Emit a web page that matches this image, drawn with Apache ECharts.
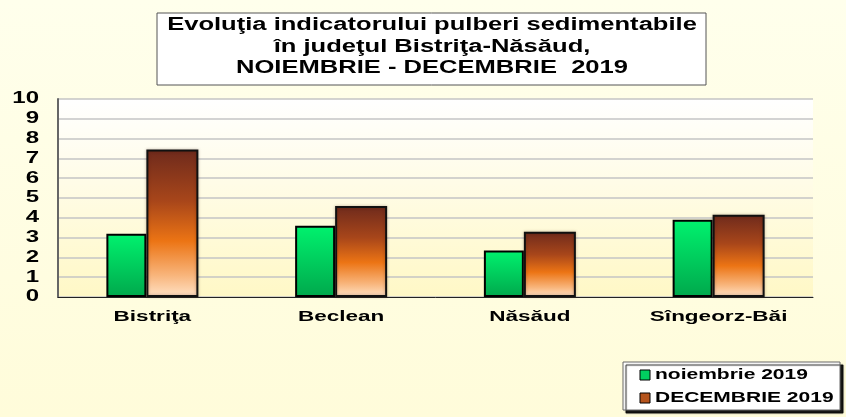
<!DOCTYPE html>
<html>
<head>
<meta charset="utf-8">
<script src="https://cdn.jsdelivr.net/npm/echarts@6/dist/echarts.min.js"></script>
<style>
  html, body { margin: 0; padding: 0; }
  #main { width: 846px; height: 417px; }
</style>
</head>
<body>
<div id="main"></div>
<script>
// date
var categorii = ['Bistriţa', 'Beclean', 'Năsăud', 'Sîngeorz-Băi'];
var noiembrie = [3.2, 3.6, 2.35, 3.9];
var decembrie = [7.45, 4.6, 3.3, 4.15];
var valoriY = [0, 1, 2, 3, 4, 5, 6, 7, 8, 9, 10];
var etichetaNov = 'noiembrie 2019';
var etichetaDec = 'DECEMBRIE 2019';
var titlu = 'Evoluţia indicatorului pulberi sedimentabile\nîn judeţul Bistriţa-Năsăud,\nNOIEMBRIE - DECEMBRIE  2019';

var font = '"Liberation Sans", Arial, sans-serif';
// textul din original e intins pe orizontala
var latire = 1.5;

var myChart = echarts.init(document.getElementById('main'));

var verde = new echarts.graphic.LinearGradient(0, 0, 0, 1, [
    {offset: 0, color: '#00f26e'},
    {offset: 1, color: '#00a84c'}
]);
var maro = new echarts.graphic.LinearGradient(0, 0, 0, 1, [
    {offset: 0, color: '#6e2a1c'},
    {offset: 0.35, color: '#a8461a'},
    {offset: 0.62, color: '#ec7414'},
    {offset: 0.85, color: '#f8b47a'},
    {offset: 1, color: '#ffe2c6'}
]);

option = {
    backgroundColor: new echarts.graphic.LinearGradient(0, 0, 0, 1, [
        {offset: 0, color: '#ffffec'},
        {offset: 1, color: '#fffcda'}
    ]),
    textStyle: {fontFamily: font},
    grid: {
        left: 58,
        right: 33,
        top: 99,
        bottom: 120,
        show: true,
        borderWidth: 0,
        backgroundColor: new echarts.graphic.LinearGradient(0, 0, 0, 1, [
            {offset: 0, color: '#ffffff'},
            {offset: 1, color: '#fff8c6'}
        ])
    },
    xAxis: {
        type: 'category',
        data: categorii,
        axisLine: {lineStyle: {color: '#222', width: 1}},
        axisTick: {show: false},
        axisLabel: {show: false}
    },
    yAxis: {
        type: 'value',
        min: 0,
        max: 10,
        interval: 1,
        axisLine: {show: true, lineStyle: {color: '#666', width: 2}},
        axisTick: {show: false},
        axisLabel: {show: false},
        splitLine: {lineStyle: {color: '#c4c4c4', width: 1.5}}
    },
    series: [
        {
            name: etichetaNov,
            type: 'bar',
            data: noiembrie,
            barWidth: 40,
            barGap: '0%',
            itemStyle: {color: verde, borderColor: '#000', borderWidth: 2}
        },
        {
            name: etichetaDec,
            type: 'bar',
            data: decembrie,
            barWidth: 52,
            itemStyle: {color: maro, borderColor: '#111', borderWidth: 2,
                shadowColor: 'rgba(60,20,0,0.35)', shadowBlur: 3}
        }
    ]
};

myChart.setOption(option);

function text(x, y, s, size, align, scale) {
    return {
        type: 'text', x: x, y: y, scaleX: scale || latire,
        style: {text: s, fontFamily: font, fontWeight: 'bold', fontSize: size,
            fill: '#000', align: align, verticalAlign: 'middle'}
    };
}

var elemente = [];

// titlul in chenar
elemente.push({
    type: 'rect', shape: {x: 157, y: 13, width: 549, height: 72},
    style: {fill: '#fff', stroke: '#555', lineWidth: 1}
});
var t = text(432, 47, titlu, 18, 'center', 1.42);
t.style.lineHeight = 21.5;
elemente.push(t);

// etichete axa Y
valoriY.forEach(function (v) {
    var y = myChart.convertToPixel({yAxisIndex: 0}, v);
    elemente.push(text(39, y, String(v), 16, 'right'));
});

// etichete categorii
categorii.forEach(function (c) {
    var x = myChart.convertToPixel({xAxisIndex: 0}, c);
    elemente.push(text(x, 317, c, 15, 'center'));
});

// legenda
elemente.push({
    type: 'rect', shape: {x: 623, y: 362, width: 217, height: 48},
    style: {fill: '#fff', stroke: '#666', lineWidth: 1,
        shadowColor: 'rgba(0,0,0,0.9)', shadowOffsetX: 3, shadowOffsetY: 3, shadowBlur: 1}
});
elemente.push({
    type: 'rect', shape: {x: 640, y: 370, width: 10, height: 10},
    style: {fill: '#00d060', stroke: '#000', lineWidth: 1}
});
elemente.push({
    type: 'rect', shape: {x: 640, y: 393, width: 10, height: 10},
    style: {fill: '#b5541c', stroke: '#000', lineWidth: 1}
});
elemente.push(text(655, 375, etichetaNov, 14, 'left', 1.5));
elemente.push(text(655, 398, etichetaDec, 14, 'left', 1.5));

myChart.setOption({graphic: elemente});
</script>
</body>
</html>
